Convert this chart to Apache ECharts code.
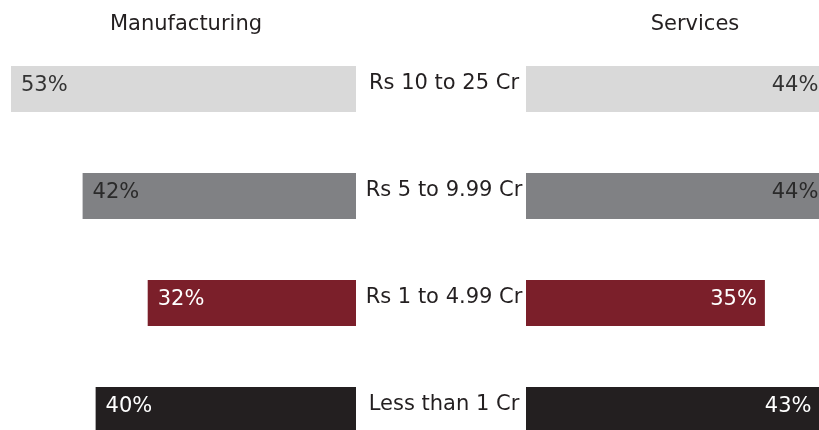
<!DOCTYPE html>
<html>
<head>
<meta charset="utf-8">
<script src="https://cdn.jsdelivr.net/npm/echarts@6/dist/echarts.min.js"></script>
<style>
  html, body { margin: 0; padding: 0; background: #fff; }
  #chart { width: 819px; height: 430px; }
</style>
</head>
<body>
<div id="chart"></div>
<script>
  // turnover bands, top to bottom
  var categories = ['Rs 10 to 25 Cr', 'Rs 5 to 9.99 Cr', 'Rs 1 to 4.99 Cr', 'Less than 1 Cr']
  var manufacturing = [53, 42, 32, 40]
  var services = [44, 44, 35, 43]
  var barColors = ['#d9d9d9', '#808184', '#7b1f2a', '#231f20']
  var labelColors = ['#333333', '#2a2a2a', '#ffffff', '#ffffff']

  var FONT = 'DejaVu Sans'

  function makeData (values) {
    var out = []
    for (var i = 0; i < values.length; i++) {
      out.push({
        value: values[i],
        itemStyle: {color: barColors[i]},
        label: {color: labelColors[i]}
      })
    }
    return out
  }

  var myChart = echarts.init(document.getElementById('chart'))
  var option = {
    animation: false,
    title: [
      {text: 'Manufacturing', left: 181, top: 9, textAlign: 'center',
        textStyle: {fontFamily: FONT, fontSize: 21, fontWeight: 'normal', color: '#231f20'}},
      {text: 'Services', left: 690, top: 9, textAlign: 'center',
        textStyle: {fontFamily: FONT, fontSize: 21, fontWeight: 'normal', color: '#231f20'}}
    ],
    // the bottom row and the right bars run off the picture, so fixed sizes
    grid: [
      {left: 11, top: 35.5, width: 345, height: 428, outerBoundsMode: 'none'},
      {left: 526, top: 35.5, width: 303.75, height: 428, outerBoundsMode: 'none'}
    ],
    xAxis: [
      {gridIndex: 0, type: 'value', inverse: true, min: 0, max: 53, show: false},
      {gridIndex: 1, type: 'value', min: 0, max: 44.5, show: false}
    ],
    yAxis: [
      {
        gridIndex: 0, type: 'category', data: categories, inverse: true, position: 'right',
        axisLine: {show: false}, axisTick: {show: false},
        axisLabel: {
          align: 'center', margin: 88,
          formatter: '{t|{value}}',
          rich: {t: {fontFamily: FONT, fontSize: 21, color: '#231f20', padding: [0, 0, 10, 0]}}
        }
      },
      {
        gridIndex: 1, type: 'category', data: categories, inverse: true,
        axisLine: {show: false}, axisTick: {show: false}, axisLabel: {show: false}
      }
    ],
    series: [
      {
        name: 'Manufacturing', type: 'bar', xAxisIndex: 0, yAxisIndex: 0,
        barWidth: 46,
        label: {show: true, position: 'insideLeft', distance: 10, formatter: '{c}%',
          fontFamily: FONT, fontSize: 21, offset: [0, -3]},
        data: makeData(manufacturing)
      },
      {
        name: 'Services', type: 'bar', xAxisIndex: 1, yAxisIndex: 1,
        barWidth: 46,
        label: {show: true, position: 'insideRight', distance: 8, formatter: '{c}%',
          fontFamily: FONT, fontSize: 21, offset: [0, -3]},
        data: makeData(services)
      }
    ]
  }
  myChart.setOption(option, true)
</script>
</body>
</html>
